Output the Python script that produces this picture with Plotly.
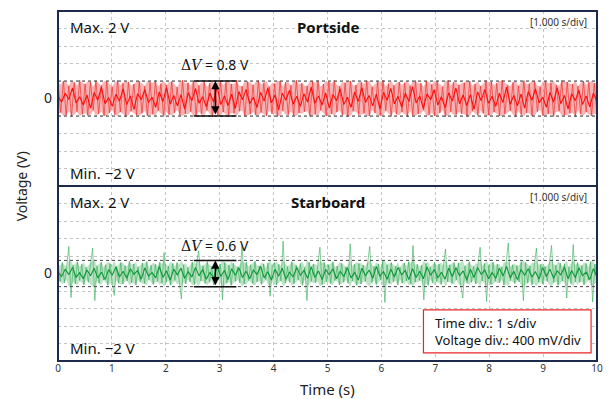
import plotly.graph_objects as go
from plotly.subplots import make_subplots

# ---------------- data ----------------
time_ticks = [0, 1, 2, 3, 4, 5, 6, 7, 8, 9, 10]
grid_volts = [-1.6, -1.2, -0.8, -0.4, 0.4, 0.8, 1.2, 1.6]
t_end = 10.0

panel_names = ["Portside", "Starboard"]
delta_v = [0.8, 0.6]

# light envelope (dense oscillation) - Portside
port_env = [
    0.36, -0.32, 0.40, -0.38, 0.29, -0.41, 0.37, -0.30, 0.42, -0.36,
    0.33, -0.39, 0.38, -0.27, 0.41, -0.35, 0.30, -0.40, 0.39, -0.33,
    0.27, -0.37, 0.42, -0.31, 0.35, -0.42, 0.38, -0.29, 0.33, -0.38,
    0.40, -0.34, 0.28, -0.40, 0.37, -0.36, 0.41, -0.28, 0.34, -0.41,
    0.31, -0.37, 0.39, -0.33, 0.26, -0.39, 0.42, -0.35, 0.36, -0.30,
    0.41, -0.40, 0.30, -0.36, 0.38, -0.27, 0.35, -0.42, 0.29, -0.38,
    0.40, -0.31, 0.37, -0.39, 0.33, -0.34, 0.42, -0.29, 0.28, -0.41,
    0.39, -0.36, 0.31, -0.38, 0.41, -0.32, 0.36, -0.40, 0.27, -0.35,
    0.34, -0.42, 0.40, -0.28, 0.37, -0.37, 0.30, -0.39, 0.42, -0.33,
    0.35, -0.30, 0.29, -0.41, 0.39, -0.36, 0.41, -0.27, 0.33, -0.40,
    0.38, -0.35, 0.42, -0.31, 0.28, -0.38, 0.36, -0.42, 0.40, -0.29,
    0.31, -0.37, 0.37, -0.34, 0.41, -0.40, 0.27, -0.33, 0.39, -0.39,
    0.42, -0.28, 0.34, -0.41, 0.30, -0.36, 0.38, -0.31, 0.36, -0.42,
    0.29, -0.39, 0.41, -0.35, 0.35, -0.27, 0.40, -0.38, 0.32, -0.40,
    0.39, -0.33, 0.27, -0.42, 0.42, -0.30, 0.37, -0.37, 0.31, -0.35,
    0.36, -0.41, 0.40, -0.29, 0.33, -0.39, 0.28, -0.34, 0.41, -0.38,
    0.38, -0.31, 0.35, -0.40, 0.42, -0.36, 0.30, -0.28, 0.37, -0.42,
    0.29, -0.37, 0.41, -0.33, 0.34, -0.40, 0.39, -0.30, 0.27, -0.39,
    0.40, -0.35, 0.36, -0.41, 0.31, -0.29, 0.42, -0.38, 0.38, -0.34,
    0.33, -0.42, 0.28, -0.36, 0.40, -0.31, 0.37, -0.40, 0.35, -0.37,
]

# darker core - Portside
port_core = [
    0.05, -0.08, 0.12, -0.02, 0.24, -0.10, 0.04, -0.15, 0.08, -0.22,
    0.14, -0.04, 0.26, -0.12, 0.02, -0.18, 0.10, -0.06, 0.22, -0.14,
    0.06, -0.25, 0.11, -0.03, 0.20, -0.09, 0.03, -0.20, 0.15, -0.07,
    0.25, -0.13, 0.07, -0.17, 0.09, -0.24, 0.13, -0.05, 0.23, -0.11,
    0.04, -0.19, 0.12, -0.08, 0.27, -0.14, 0.06, -0.16, 0.10, -0.23,
    0.16, -0.03, 0.21, -0.12, 0.03, -0.21, 0.14, -0.06, 0.24, -0.10,
    0.08, -0.26, 0.12, -0.04, 0.19, -0.13, 0.05, -0.18, 0.11, -0.08,
    0.26, -0.11, 0.06, -0.15, 0.13, -0.22, 0.09, -0.05, 0.22, -0.14,
    0.03, -0.20, 0.15, -0.07, 0.25, -0.09, 0.07, -0.17, 0.10, -0.24,
    0.14, -0.04, 0.23, -0.12, 0.05, -0.19, 0.12, -0.07, 0.27, -0.10,
    0.06, -0.23, 0.11, -0.03, 0.20, -0.15, 0.04, -0.21, 0.13, -0.06,
    0.24, -0.12, 0.08, -0.16, 0.09, -0.25, 0.15, -0.05, 0.21, -0.11,
    0.05, -0.18, 0.12, -0.09, 0.26, -0.13, 0.07, -0.17, 0.10, -0.22,
    0.16, -0.04, 0.22, -0.10, 0.03, -0.20, 0.14, -0.08, 0.25, -0.12,
    0.07, -0.24, 0.11, -0.05, 0.19, -0.14, 0.06, -0.19, 0.12, -0.07,
]

# light envelope with spikes - Starboard
star_env = [
    0.22, -0.18, 0.25, -0.21, 0.15, 0.62, -0.55, 0.19, -0.24, 0.27,
    -0.16, 0.21, -0.26, 0.14, -0.20, 0.24, 0.58, -0.62, 0.17, -0.23,
    0.26, -0.15, 0.20, -0.27, 0.23, -0.19, -0.50, 0.16, -0.22, 0.25,
    -0.24, 0.18, -0.17, 0.28, -0.21, 0.22, -0.26, 0.15, -0.19, 0.24,
    -0.23, 0.27, -0.14, 0.19, -0.25, 0.21, -0.18, 0.26, -0.22, 0.48,
    -0.20, 0.17, -0.27, 0.23, -0.16, 0.25, -0.21, -0.58, 0.20, -0.24,
    0.14, -0.19, 0.26, -0.25, 0.22, 0.52, -0.17, 0.18, -0.23, 0.27,
    -0.20, 0.16, -0.26, 0.24, -0.15, 0.21, -0.60, 0.25, -0.22, 0.19,
    -0.27, 0.23, -0.18, 0.15, -0.21, 0.66, -0.24, 0.26, -0.16, 0.20,
    -0.23, 0.28, -0.19, 0.17, -0.25, 0.22, -0.14, 0.24, -0.52, 0.18,
    0.25, -0.26, 0.21, -0.17, 0.74, -0.22, 0.16, -0.20, 0.27, -0.24,
    0.19, -0.15, 0.23, -0.27, 0.14, -0.62, 0.26, -0.18, 0.22, -0.21,
    0.18, 0.60, -0.25, 0.25, -0.19, 0.20, -0.23, 0.27, -0.16, 0.17,
    -0.26, 0.24, -0.20, 0.15, -0.22, 0.68, -0.17, 0.21, -0.27, 0.23,
    -0.24, 0.19, -0.18, 0.26, 0.62, -0.21, 0.16, -0.25, 0.22, -0.15,
    0.28, -0.66, 0.20, -0.23, 0.25, -0.19, 0.17, -0.26, 0.14, -0.22,
    0.24, -0.17, 0.27, -0.24, 0.64, -0.20, 0.21, -0.16, 0.19, -0.60,
    0.23, -0.27, 0.15, -0.21, 0.26, -0.18, 0.22, -0.25, 0.18, 0.56,
    -0.19, 0.20, -0.23, 0.25, -0.15, 0.24, -0.26, -0.56, 0.17, -0.22,
    0.27, -0.20, 0.16, -0.24, 0.21, 0.60, -0.17, 0.23, -0.64, 0.19,
    -0.25, 0.26, -0.18, 0.22, -0.21, 0.15, -0.27, 0.24, 0.70, -0.16,
    0.20, -0.23, 0.18, -0.19, 0.27, -0.62, 0.25, -0.22, 0.17, -0.26,
    0.23, 0.58, -0.20, 0.21, -0.24, 0.16, -0.18, 0.26, 0.64, -0.21,
    0.19, -0.27, 0.24, -0.17, 0.22, -0.56, 0.15, -0.23, 0.66, -0.19,
    0.25, -0.20, 0.18, -0.26, 0.23, -0.15, 0.27, -0.65, 0.21, -0.22,
]

# darker core - Starboard
star_core = [
    0.04, -0.07, 0.10, -0.03, 0.14, -0.09, 0.02, -0.12, 0.08, -0.05,
    0.12, -0.10, 0.03, -0.14, 0.09, -0.04, 0.15, -0.08, 0.05, -0.11,
    0.11, -0.02, 0.07, -0.13, 0.13, -0.06, 0.02, -0.10, 0.16, -0.09,
    0.06, -0.15, 0.10, -0.03, 0.12, -0.11, 0.04, -0.08, 0.14, -0.05,
    0.09, -0.13, 0.03, -0.10, 0.15, -0.07, 0.07, -0.14, 0.11, -0.04,
    0.13, -0.09, 0.05, -0.12, 0.08, -0.02, 0.16, -0.10, 0.04, -0.15,
    0.10, -0.06, 0.12, -0.13, 0.03, -0.08, 0.14, -0.04, 0.07, -0.11,
    0.15, -0.09, 0.06, -0.14, 0.09, -0.03, 0.11, -0.12, 0.05, -0.07,
    0.13, -0.10, 0.02, -0.15, 0.12, -0.05, 0.08, -0.11, 0.16, -0.06,
    0.04, -0.13, 0.10, -0.08, 0.14, -0.03, 0.07, -0.14, 0.11, -0.09,
    0.05, -0.12, 0.15, -0.04, 0.09, -0.10, 0.03, -0.13, 0.12, -0.07,
    0.13, -0.05, 0.06, -0.15, 0.10, -0.09, 0.14, -0.02, 0.08, -0.12,
    0.02, -0.11, 0.12, -0.06, 0.16, -0.10, 0.05, -0.14, 0.09, -0.04,
    0.11, -0.08, 0.04, -0.13, 0.14, -0.07, 0.10, -0.11, 0.06, -0.03,
    0.15, -0.12, 0.07, -0.09, 0.13, -0.05, 0.03, -0.14, 0.11, -0.08,
]

info_lines = ["Time div.: 1 s/div", "Voltage div.: 400 mV/div"]
scale_label = "[1.000 s/div]"

# ---------------- styles ----------------
FONT = "Noto Sans"
FRAME = "#1d2a4a"
GRID = "#c4c4c4"
band_colors = ["rgba(240,105,105,0.5)", "rgba(110,195,130,0.45)"]
env_colors = ["rgba(238,50,50,0.7)", "rgba(50,170,85,0.6)"]
core_colors = ["#ff0a0a", "#0c9636"]

fig = make_subplots(rows=2, cols=1, shared_xaxes=True, vertical_spacing=0)

series = [(port_env, port_core), (star_env, star_core)]
for i, (env, core) in enumerate(series):
    r = i + 1
    half = delta_v[i] / 2
    dx_env = t_end / (len(env) - 1)
    upper = [min(abs(v), half) for v in env]
    lower = [-u for u in upper]
    fig.add_trace(go.Scatter(y=upper, x0=0, dx=dx_env, mode="lines",
                             line=dict(width=0, color=band_colors[i]),
                             hoverinfo="skip", showlegend=False), row=r, col=1)
    fig.add_trace(go.Scatter(y=lower, x0=0, dx=dx_env, mode="lines", fill="tonexty",
                             fillcolor=band_colors[i], line=dict(width=0, color=band_colors[i]),
                             hoverinfo="skip", showlegend=False), row=r, col=1)
    fig.add_trace(go.Scatter(y=env, x0=0, dx=dx_env, mode="lines",
                             line=dict(color=env_colors[i], width=1),
                             hoverinfo="skip", showlegend=False), row=r, col=1)
    fig.add_trace(go.Scatter(y=core, x0=0, dx=t_end / (len(core) - 1), mode="lines",
                             line=dict(color=core_colors[i], width=1.1),
                             hoverinfo="skip", showlegend=False), row=r, col=1)

for r in (1, 2):
    fig.update_xaxes(range=[0, t_end], tickvals=time_ticks, showgrid=True,
                     griddash="dot", gridcolor=GRID, gridwidth=1, zeroline=False,
                     ticks="", showline=False, row=r, col=1)
    fig.update_yaxes(range=[-2, 2], tickvals=[0], ticktext=["0"], showgrid=False,
                     zeroline=False, ticks="", showline=False, ticklabelstandoff=5,
                     tickfont=dict(size=14, color="#222", family=FONT),
                     minor=dict(tickvals=grid_volts, showgrid=True, griddash="dot",
                                gridcolor=GRID, gridwidth=1, ticks=""),
                     row=r, col=1)

fig.update_xaxes(showticklabels=False, row=1, col=1)
fig.update_xaxes(showticklabels=True, tickfont=dict(size=10, color="#333", family=FONT),
                 row=2, col=1)

shapes = []
annotations = []
yrefs = ["y", "y2"]
xrefs = ["x", "x2"]
arrow_x = 2.92
bar_x = [2.52, 3.31]
for i in range(2):
    yr, xr = yrefs[i], xrefs[i]
    half = delta_v[i] / 2
    for s in (1, -1):
        shapes.append(dict(type="line", xref=f"{xr} domain", yref=yr, x0=0, x1=1,
                           y0=s * half, y1=s * half,
                           line=dict(color="#444", width=1, dash="dot"), layer="above"))
        shapes.append(dict(type="line", xref=xr, yref=yr, x0=bar_x[0], x1=bar_x[1],
                           y0=s * half, y1=s * half,
                           line=dict(color="#111", width=1.5), layer="above"))
    shapes.append(dict(type="rect", xref=f"{xr} domain", yref=f"{yr} domain",
                       x0=0, x1=1, y0=0, y1=1, line=dict(color=FRAME, width=2),
                       layer="above"))
    annotations.append(dict(x=arrow_x, y=half, ax=arrow_x, ay=-half, xref=xr, yref=yr,
                            axref=xr, ayref=yr, showarrow=True, arrowhead=2,
                            arrowside="end+start", arrowsize=1.1, arrowwidth=1.5,
                            arrowcolor="#000", text=""))
    annotations.append(dict(x=arrow_x, y=half + 0.38 - 0.05 * i, xref=xr, yref=yr,
                            text=f"<span style='font-family:DejaVu Serif'>Δ<i>V</i></span> = {delta_v[i]} V",
                            showarrow=False, yanchor="middle",
                            font=dict(size=14, color="#111", family=FONT)))
    annotations.append(dict(x=0.018, y=0.907, xref=f"{xr} domain", yref=f"{yr} domain",
                            text="Max. 2 V", showarrow=False, xanchor="left", yanchor="middle",
                            font=dict(size=15, color="#111", family=FONT)))
    annotations.append(dict(x=0.018, y=0.075, xref=f"{xr} domain", yref=f"{yr} domain",
                            text="Min. −2 V", showarrow=False, xanchor="left", yanchor="middle",
                            font=dict(size=15, color="#111", family=FONT)))
    annotations.append(dict(x=0.5, y=0.907, xref=f"{xr} domain", yref=f"{yr} domain",
                            text=f"<b>{panel_names[i]}</b>", showarrow=False, yanchor="middle",
                            font=dict(size=15, color="#111", family=FONT)))
    annotations.append(dict(x=0.985, y=0.935, xref=f"{xr} domain", yref=f"{yr} domain",
                            text=scale_label, showarrow=False, xanchor="right", yanchor="middle",
                            font=dict(size=10, color="#333", family=FONT)))

shapes.append(dict(type="rect", xref="x2 domain", yref="y2 domain",
                   x0=0.678, x1=0.989, y0=0.046, y1=0.292,
                   line=dict(color="#e8262a", width=1.2), fillcolor="white", layer="above"))
annotations.append(dict(x=0.695, y=0.169, xref="x2 domain", yref="y2 domain",
                        text="<br>".join(info_lines), showarrow=False, xanchor="left",
                        align="left", yanchor="middle",
                        font=dict(size=13, color="#111", family=FONT)))

annotations.append(dict(x=-0.068, y=0.5, xref="paper", yref="paper", text="Voltage (V)",
                        textangle=-90, showarrow=False, xanchor="center", yanchor="middle",
                        font=dict(size=14, color="#222", family=FONT)))
annotations.append(dict(x=0.5, y=-0.08, xref="paper", yref="paper", text="Time (s)",
                        showarrow=False, xanchor="center", yanchor="middle",
                        font=dict(size=15, color="#222", family=FONT)))

fig.update_layout(width=614, height=399, margin=dict(l=58, r=13, t=11, b=38),
                  paper_bgcolor="white", plot_bgcolor="white",
                  shapes=shapes, annotations=annotations, showlegend=False,
                  font=dict(family=FONT))

fig.write_html("out.html")
